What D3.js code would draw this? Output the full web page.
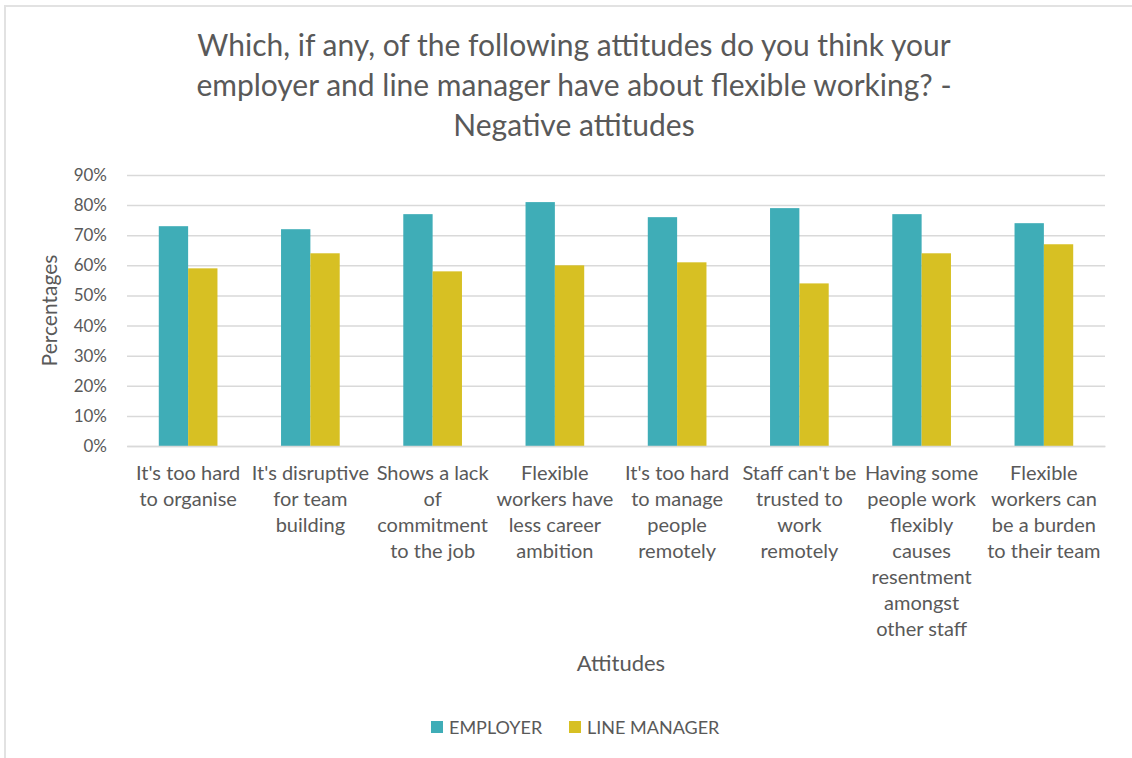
<!DOCTYPE html>
<html>
<head>
<meta charset="utf-8">
<script src="https://cdn.jsdelivr.net/npm/d3@7"></script>
<style>
  body { margin: 0; background: #fff; }
  svg { display: block; font-family: Lato, "Open Sans", sans-serif; }
</style>
</head>
<body>
<svg id="chart"></svg>
<script>
const categories = [
    ["It's too hard", "to organise"],
    ["It's disruptive", "for team", "building"],
    ["Shows a lack", "of", "commitment", "to the job"],
    ["Flexible", "workers have", "less career", "ambition"],
    ["It's too hard", "to manage", "people", "remotely"],
    ["Staff can't be", "trusted to", "work", "remotely"],
    ["Having some", "people work", "flexibly", "causes", "resentment", "amongst", "other staff"],
    ["Flexible", "workers can", "be a burden", "to their team"]
];
const seriesNames = ["EMPLOYER", "LINE MANAGER"];
const employer = [73, 72, 77, 81, 76, 79, 77, 74];
const lineManager = [59, 64, 58, 60, 61, 54, 64, 67];
const yTicks = [0, 10, 20, 30, 40, 50, 60, 70, 80, 90];

const W = 1132, H = 758;
const margin = { top: 175, right: 27, bottom: 312, left: 127 },
      width = W - margin.left - margin.right,
      height = H - margin.top - margin.bottom;
const colors = ["#3fadb7", "#d7c023"];
const textColor = "#595959";

const svg = d3.select("#chart").attr("width", W).attr("height", H);

// chart frame (only top and left edges visible)
svg.append("line").attr("x1", 5).attr("x2", W).attr("y1", 6).attr("y2", 6)
    .attr("stroke", "#e2e2e2").attr("stroke-width", 2);
svg.append("line").attr("x1", 5).attr("x2", 5).attr("y1", 5).attr("y2", H)
    .attr("stroke", "#e2e2e2").attr("stroke-width", 2);

const g = svg.append("g").attr("transform", `translate(${margin.left},${margin.top})`);

const keys = categories.map((d, i) => i);
const x = d3.scaleBand().domain(keys).range([0, width]).paddingInner(0.52).paddingOuter(0.26);
const x1 = d3.scaleBand().domain(seriesNames).range([0, x.bandwidth()]);
const y = d3.scaleLinear().domain([0, 90]).range([height, 0]);

// gridlines
g.append("g")
    .call(d3.axisLeft(y).tickValues(yTicks).tickSize(-width).tickFormat(""))
    .call(a => a.select(".domain").remove())
    .call(a => a.selectAll("line").attr("stroke", "#d9d9d9").attr("stroke-width", 1.5));

// y tick labels
g.append("g")
    .call(d3.axisLeft(y).tickValues(yTicks).tickSize(0).tickPadding(20).tickFormat(d => d + "%"))
    .call(a => a.select(".domain").remove())
    .call(a => a.selectAll("text").attr("fill", textColor).style("font-size", "17px")
        .style("font-family", "Lato, sans-serif"));

const rows = keys.map(i => ({ i, values: [employer[i], lineManager[i]] }));

g.selectAll(".grp")
    .data(rows)
    .enter().append("g")
    .attr("class", "grp")
    .attr("transform", d => `translate(${x(d.i)},0)`)
    .selectAll("rect")
    .data(d => d.values.map((v, s) => ({ s, v })))
    .enter().append("rect")
    .attr("x", d => x1(seriesNames[d.s]))
    .attr("y", d => y(d.v))
    .attr("width", x1.bandwidth())
    .attr("height", d => height - y(d.v))
    .attr("fill", d => colors[d.s]);

// x axis
const xAxis = g.append("g")
    .attr("transform", `translate(0,${height})`)
    .call(d3.axisBottom(x).tickSize(0).tickFormat(""));
xAxis.select(".domain").attr("stroke", "#d9d9d9").attr("stroke-width", 1.5);

xAxis.selectAll(".tick").each(function(i) {
    const t = d3.select(this).append("text")
        .attr("fill", textColor)
        .attr("text-anchor", "middle")
        .style("font-size", "20px")
        .style("font-family", "Lato, sans-serif")
        .attr("y", 34);
    categories[i].forEach((line, k) => {
        t.append("tspan").attr("x", 0).attr("dy", k === 0 ? 0 : 26).text(line);
    });
});

// axis titles
svg.append("text")
    .attr("transform", `translate(57,${margin.top + height / 2}) rotate(-90)`)
    .attr("text-anchor", "middle")
    .attr("fill", textColor)
    .style("font-size", "21px")
    .text("Percentages");

svg.append("text")
    .attr("x", margin.left + width / 2 + 5)
    .attr("y", 671)
    .attr("text-anchor", "middle")
    .attr("fill", textColor)
    .style("font-size", "22px")
    .text("Attitudes");

// title
const titleLines = [
    "Which, if any, of the following attitudes do you think your",
    "employer and line manager have about flexible working? -",
    "Negative attitudes"
];
const title = svg.append("text")
    .attr("text-anchor", "middle")
    .attr("fill", textColor)
    .style("font-size", "30px");
titleLines.forEach((line, k) => {
    title.append("tspan").attr("x", 574).attr("y", 56 + k * 40).text(line);
});

// legend
const legend = svg.append("g").attr("transform", "translate(431,727)");
const legendX = [0, 138];
seriesNames.forEach((name, s) => {
    const item = legend.append("g").attr("transform", `translate(${legendX[s]},0)`);
    item.append("rect").attr("x", 0).attr("y", -6).attr("width", 12).attr("height", 12)
        .attr("fill", colors[s]);
    item.append("text").attr("x", 18).attr("y", 7).attr("fill", textColor)
        .style("font-size", "18px").text(name);
});
</script>
</body>
</html>
